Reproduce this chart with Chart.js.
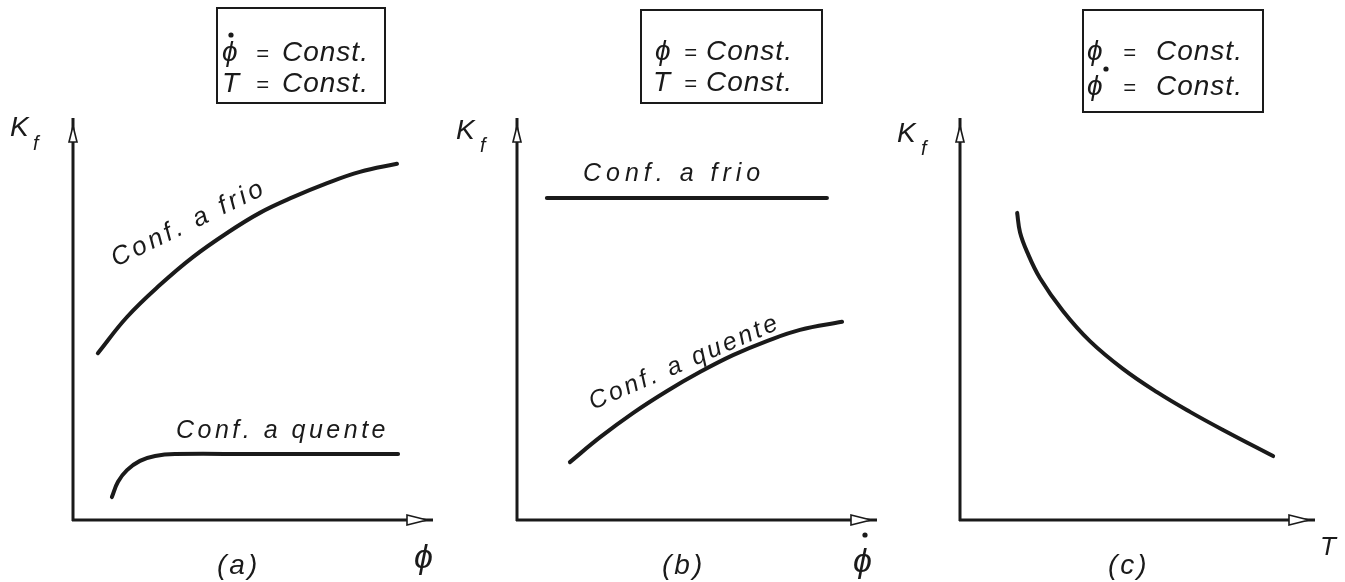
<!DOCTYPE html>
<html>
<head>
<meta charset="utf-8">
<title>Kf</title>
<script src="https://cdn.jsdelivr.net/npm/chart.js@4.4.0/dist/chart.umd.min.js"></script>
<style>
html, body { margin: 0; padding: 0; background: #fff; }
#wrap { position: relative; width: 1345px; height: 582px; overflow: hidden; }
#wrap canvas { position: absolute; top: 0; }
</style>
</head>
<body>
<div id="wrap">
	<canvas id="chartA" width="448" height="582" style="left:0px"></canvas>
	<canvas id="chartB" width="448" height="582" style="left:448px"></canvas>
	<canvas id="chartC" width="449" height="582" style="left:896px"></canvas>
</div>
<script>
// (a) Kf against phi
var aFrioX = [6.9, 15.0, 24.2, 33.3, 42.8, 51.9, 61.1, 70.6, 79.7, 90.0];
var aFrioY = [41.5, 50.5, 58.5, 65.4, 71.4, 76.4, 80.3, 83.8, 86.6, 88.6];
var aQuenteX = [10.8, 12.5, 15.0, 18.6, 22.8, 28.3, 50.0, 70.0, 90.3];
var aQuenteY = [5.7, 9.5, 12.4, 14.7, 15.9, 16.4, 16.4, 16.4, 16.4];

// (b) Kf against phi-dot
var bFrioX = [8.3, 86.1];
var bFrioY = [80.1, 80.1];
var bQuenteX = [14.7, 23.1, 32.2, 41.7, 50.8, 60.0, 69.4, 78.6, 90.3];
var bQuenteY = [14.4, 20.6, 26.6, 32.1, 36.8, 41.0, 44.5, 47.3, 49.3];

// (c) Kf against T
var cCurveX = [16.1, 16.9, 18.9, 22.5, 29.0, 36.6, 45.9, 55.5, 64.8, 74.1, 88.2];
var cCurveY = [76.4, 71.6, 66.7, 60.2, 52.0, 44.5, 37.6, 31.8, 26.9, 22.4, 15.9];

var ink = '#1a1a1a';
var fontName = '"Liberation Sans", Arial, sans-serif';

function toPoints(xs, ys) {
	return xs.map(function(x, i) { return { x: x, y: ys[i] }; });
}

function curve(xs, ys) {
	return {
		data: toPoints(xs, ys),
		borderColor: ink,
		borderWidth: 4,
		borderCapStyle: 'round',
		pointRadius: 0,
		tension: 0.4,
		fill: false
	};
}

// axes with hollow arrow heads, drawn from the scales
var axisArrows = {
	id: 'axisArrows',
	beforeDatasetsDraw: function(chart) {
		var ctx = chart.ctx, xs = chart.scales.x, ys = chart.scales.y;
		var x0 = xs.getPixelForValue(0), x1 = xs.getPixelForValue(100);
		var y0 = ys.getPixelForValue(0), y1 = ys.getPixelForValue(100);
		ctx.save();
		ctx.strokeStyle = ink;
		ctx.lineWidth = 3;
		ctx.beginPath();
		ctx.moveTo(x0, y0 + 1);
		ctx.lineTo(x0, y1);
		ctx.moveTo(x0 - 1, y0);
		ctx.lineTo(x1, y0);
		ctx.stroke();

		ctx.lineWidth = 1.6;
		ctx.fillStyle = '#fff';
		// up arrow
		ctx.beginPath();
		ctx.moveTo(x0, y1 + 8);
		ctx.lineTo(x0 + 4, y1 + 24);
		ctx.lineTo(x0 - 4, y1 + 24);
		ctx.closePath();
		ctx.fill();
		ctx.stroke();
		// right arrow
		ctx.beginPath();
		ctx.moveTo(x1 - 6, y0);
		ctx.lineTo(x1 - 26, y0 - 5);
		ctx.lineTo(x1 - 26, y0 + 5);
		ctx.closePath();
		ctx.fill();
		ctx.stroke();
		ctx.restore();
	}
};

// frame boxes and lettering
var lettering = {
	id: 'lettering',
	afterDraw: function(chart, args, opts) {
		var ctx = chart.ctx;
		ctx.save();
		ctx.fillStyle = ink;
		ctx.strokeStyle = ink;
		if (opts.box) {
			ctx.lineWidth = 2;
			ctx.strokeRect(opts.box[0], opts.box[1], opts.box[2], opts.box[3]);
		}
		(opts.dots || []).forEach(function(d) {
			ctx.beginPath();
			ctx.arc(d[0], d[1], 2.6, 0, Math.PI * 2);
			ctx.fill();
		});
		ctx.textBaseline = 'alphabetic';
		(opts.items || []).forEach(function(t) {
			ctx.save();
			ctx.font = 'italic ' + t.size + 'px ' + fontName;
			ctx.letterSpacing = (t.spacing || 0) + 'px';
			ctx.translate(t.x, t.y);
			if (t.rot) ctx.rotate(t.rot * Math.PI / 180);
			ctx.fillText(t.text, 0, 0);
			ctx.restore();
		});
		ctx.restore();
	}
};

function makeChart(id, datasets, pad, box, dots, items) {
	var ctx = document.getElementById(id).getContext('2d');
	return new Chart(ctx, {
		type: 'line',
		data: { datasets: datasets },
		options: {
			responsive: false,
			animation: false,
			devicePixelRatio: 1,
			layout: { padding: pad },
			scales: {
				x: { type: 'linear', min: 0, max: 100, display: false },
				y: { type: 'linear', min: 0, max: 100, display: false }
			},
			plugins: {
				legend: { display: false },
				tooltip: { enabled: false },
				lettering: { box: box, dots: dots, items: items }
			}
		},
		plugins: [axisArrows, lettering]
	});
}

makeChart('chartA',
	[curve(aFrioX, aFrioY), curve(aQuenteX, aQuenteY)],
	{ left: 73, top: 118, right: 15, bottom: 62 },
	[217, 8, 168, 95],
	[[231, 35]],
	[
		{ text: 'ϕ', x: 222, y: 61, size: 28 },
		{ text: '=', x: 256, y: 61, size: 22 },
		{ text: 'Const.', x: 282, y: 61, size: 28, spacing: 1 },
		{ text: 'T', x: 222, y: 92, size: 28 },
		{ text: '=', x: 256, y: 92, size: 22 },
		{ text: 'Const.', x: 282, y: 92, size: 28, spacing: 1 },
		{ text: 'K', x: 10, y: 136, size: 28 },
		{ text: 'f', x: 33, y: 150, size: 20 },
		{ text: 'Conf. a frio', x: 116, y: 267, size: 26, spacing: 3.5, rot: -26 },
		{ text: 'Conf. a quente', x: 176, y: 438, size: 25, spacing: 3.5 },
		{ text: '(a)', x: 217, y: 574, size: 28, spacing: 3 },
		{ text: 'ϕ', x: 414, y: 568, size: 34 }
	]);

makeChart('chartB',
	[curve(bFrioX, bFrioY), curve(bQuenteX, bQuenteY)],
	{ left: 69, top: 118, right: 19, bottom: 62 },
	[193, 10, 181, 93],
	[[417, 535]],
	[
		{ text: 'ϕ', x: 207, y: 60, size: 28 },
		{ text: '=', x: 236, y: 60, size: 22 },
		{ text: 'Const.', x: 258, y: 60, size: 28, spacing: 1 },
		{ text: 'T', x: 205, y: 91, size: 28 },
		{ text: '=', x: 236, y: 91, size: 22 },
		{ text: 'Const.', x: 258, y: 91, size: 28, spacing: 1 },
		{ text: 'K', x: 8, y: 139, size: 28 },
		{ text: 'f', x: 32, y: 152, size: 20 },
		{ text: 'Conf. a frio', x: 135, y: 181, size: 25, spacing: 5 },
		{ text: 'Conf. a quente', x: 145, y: 410, size: 25, spacing: 3, rot: -23.5 },
		{ text: '(b)', x: 214, y: 574, size: 28, spacing: 3 },
		{ text: 'ϕ', x: 405, y: 572, size: 34 }
	]);

makeChart('chartC',
	[curve(cCurveX, cCurveY)],
	{ left: 64, top: 118, right: 30, bottom: 62 },
	[187, 10, 180, 102],
	[[210, 69]],
	[
		{ text: 'ϕ', x: 191, y: 60, size: 28 },
		{ text: '=', x: 227, y: 60, size: 22 },
		{ text: 'Const.', x: 260, y: 60, size: 28, spacing: 1 },
		{ text: 'ϕ', x: 191, y: 95, size: 28 },
		{ text: '=', x: 227, y: 95, size: 22 },
		{ text: 'Const.', x: 260, y: 95, size: 28, spacing: 1 },
		{ text: 'K', x: 1, y: 142, size: 28 },
		{ text: 'f', x: 25, y: 155, size: 20 },
		{ text: '(c)', x: 212, y: 574, size: 28, spacing: 3 },
		{ text: 'T', x: 424, y: 555, size: 26 }
	]);
</script>
</body>
</html>
